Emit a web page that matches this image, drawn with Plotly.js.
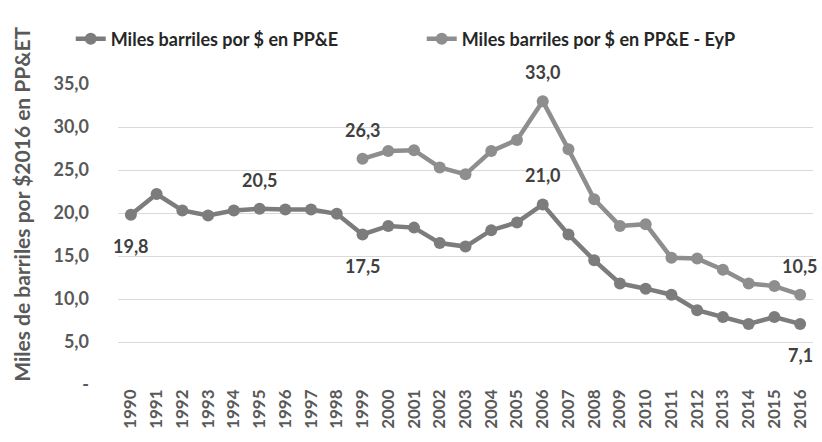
<!DOCTYPE html>
<html>
<head>
<meta charset="utf-8">
<script src="https://cdn.plot.ly/plotly-3.0.1.min.js"></script>
<style>
  html, body { margin: 0; padding: 0; background: #ffffff; }
  #plot { width: 822px; height: 442px; }
</style>
</head>
<body>
<div id="plot"></div>
<script>
const years = [1990, 1991, 1992, 1993, 1994, 1995, 1996, 1997, 1998, 1999,
    2000, 2001, 2002, 2003, 2004, 2005, 2006, 2007, 2008, 2009,
    2010, 2011, 2012, 2013, 2014, 2015, 2016];

const ppeValues = [19.8, 22.2, 20.3, 19.7, 20.3, 20.5, 20.4, 20.4, 19.9, 17.5,
    18.5, 18.3, 16.5, 16.1, 18.0, 18.9, 21.0, 17.5, 14.5, 11.8,
    11.2, 10.5, 8.7, 7.9, 7.1, 7.9, 7.1];

const eypYears = years.slice(9);
const eypValues = [26.3, 27.2, 27.3, 25.3, 24.5, 27.2, 28.5, 33.0, 27.4, 21.6,
    18.5, 18.7, 14.8, 14.7, 13.4, 11.8, 11.5, 10.5];

const seriesNames = ['Miles barriles por $ en PP&E', 'Miles barriles por $ en PP&E - EyP'];

// labelled points: [year, value, above?]
const ppeLabels = [[1990, 19.8, false], [1995, 20.5, true], [1999, 17.5, false],
    [2006, 21.0, true], [2016, 7.1, false]];
const eypLabels = [[1999, 26.3, true], [2006, 33.0, true], [2016, 10.5, true]];

const yTickVals = [0, 5, 10, 15, 20, 25, 30, 35];
const yTickText = ['-', '5,0', '10,0', '15,0', '20,0', '25,0', '30,0', '35,0'];

const axisTitle = 'Miles de barriles por $2016 en PP&ET';

const fontFamily = 'Lato, "Open Sans", sans-serif';
const textGray = '#595959';

function fmt(v) {
    return v.toFixed(1).replace('.', ',');
}

const traces = [
    {
        x: years,
        y: ppeValues,
        name: seriesNames[0],
        mode: 'lines+markers',
        line: { color: '#7c7c7c', width: 4.5 },
        marker: { color: '#7c7c7c', size: 12 }
    },
    {
        x: eypYears,
        y: eypValues,
        name: seriesNames[1],
        mode: 'lines+markers',
        line: { color: '#8e8e8e', width: 4.5 },
        marker: { color: '#8e8e8e', size: 12 }
    }
];

const annotations = ppeLabels.concat(eypLabels).map(([yr, v, above]) => ({
    x: yr,
    y: v,
    xref: 'x',
    yref: 'y',
    text: '<b>' + fmt(v) + '</b>',
    showarrow: false,
    yshift: above ? 29 : -31,
    font: { family: fontFamily, size: 18, color: '#404040' }
}));

annotations.push({
    xref: 'paper',
    yref: 'paper',
    x: -0.16,
    y: 0.6,
    text: '<b>' + axisTitle + '</b>',
    textangle: -90,
    showarrow: false,
    font: { family: fontFamily, size: 21, color: textGray }
});

const layout = {
    width: 822,
    height: 442,
    margin: { l: 118, r: 9, t: 84, b: 57 },
    paper_bgcolor: '#ffffff',
    plot_bgcolor: '#ffffff',
    font: { family: fontFamily, color: textGray },
    showlegend: true,
    legend: {
        orientation: 'h',
        x: -0.068,
        y: 1.1495,
        xanchor: 'left',
        yanchor: 'middle',
        entrywidth: 306,
        entrywidthmode: 'pixels',
        font: { family: fontFamily, size: 18, color: '#262626', weight: 'bold' },
        bgcolor: 'rgba(0,0,0,0)'
    },
    xaxis: {
        type: 'linear',
        range: [1989.5, 2016.5],
        tickmode: 'array',
        tickvals: years,
        ticktext: years.map(String),
        tickangle: -90,
        tickfont: { family: fontFamily, size: 17, color: textGray, weight: 'bold' },
        showgrid: false,
        showline: false,
        zeroline: false,
        ticks: ''
    },
    yaxis: {
        range: [0, 35],
        tickvals: yTickVals,
        ticktext: yTickText,
        tickfont: { family: fontFamily, size: 18, color: textGray, weight: 'bold' },
        ticklabelstandoff: 28,
        showgrid: true,
        gridcolor: '#d9d9d9',
        gridwidth: 1,
        zeroline: false,
        showline: false,
        ticks: ''
    },
    annotations: annotations
};

Plotly.newPlot('plot', traces, layout, { staticPlot: true, displayModeBar: false });
</script>
</body>
</html>
